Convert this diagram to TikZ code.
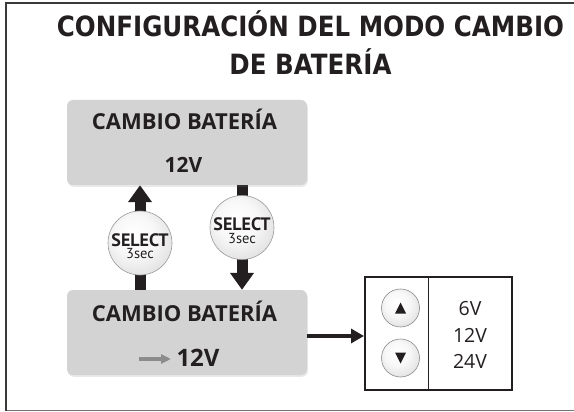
\documentclass[tikz,border=0pt]{standalone}
\usepackage{fontspec}
\setmainfont{Open Sans}
\newfontfamily\titlefont[FakeStretch=0.88]{DejaVu Sans}
\newfontfamily\selfont{PT Sans}
\usetikzlibrary{arrows.meta,shadows,backgrounds}
\definecolor{ink}{HTML}{231F20}
\definecolor{boxgray}{HTML}{D3D3D4}
\definecolor{framegray}{HTML}{3A3A3A}
\pgfdeclareradialshading{btnshade}{\pgfpoint{-6bp}{8bp}}{color(0bp)=(white); color(16bp)=(white!97!black); color(50bp)=(black!24)}
\newcommand{\seltext}{{\fontsize{18}{12.5}\selectfont\bfseries SELECT}\\{\fontsize{14.5}{12.5}\selectfont 3sec}}
\tikzset{
  panel/.style={fill=boxgray, rounded corners=6pt, minimum width=240pt, minimum height=85pt, inner sep=0pt,
    drop shadow={opacity=0.18, shadow xshift=0.8pt, shadow yshift=-1.8pt}},
  selbtn/.style={circle, draw=black!40, line width=0.6pt, shading=btnshade, minimum size=64pt, inner sep=0pt},
  keybtn/.style={circle, draw=black!45, line width=0.6pt, shading=btnshade, minimum size=38pt, inner sep=0pt},
  txt/.style={inner sep=0pt, anchor=base, text=ink},
  paneltxt/.style={txt, font=\fontsize{22}{24}\selectfont\bfseries},
  seltxt/.style={txt, align=center, font=\selfont\fontsize{18}{12.5}\selectfont},
  valtxt/.style={txt, font=\fontsize{19.5}{21}\selectfont},
  bigarr/.style={draw=ink, line width=11pt, -{Triangle[width=23pt,length=17pt]}},
  midarr/.style={draw=ink, line width=4pt, -{Triangle[width=14pt,length=13pt]}},
  grayarr/.style={draw=black!45, line width=3.5pt, -{Triangle[width=9pt,length=10pt]}},
  tri/.style={fill=ink}
}
\begin{document}
\begin{tikzpicture}[x=1pt,y=-1pt]
\useasboundingbox (0,0) rectangle (574,412);
% frame
\coordinate (fTL) at (6,3);
\coordinate (fTR) at (575,3);
\coordinate (fBL) at (6,410.5);
\coordinate (fBR) at (575,410.5);
\draw[framegray, line width=2pt] (fTL) -- (fTR);
\draw[black!55, line width=1.5pt] (fBL) -- (fBR);
\draw[framegray, line width=2.6pt] ([yshift=1pt]fTL) -- (fBL);
% title
\node[txt, font=\titlefont\fontsize{27.9}{30}\selectfont\bfseries] (title1) at (310.5,37) {CONFIGURACIÓN DEL MODO CAMBIO};
\node[txt, font=\titlefont\fontsize{27.9}{30}\selectfont\bfseries] (title2) at (310.5,75) {DE BATERÍA};
% panels
\node[panel] (top) at (187,142.5) {};
\node[panel] (bot) at (187,332.5) {};
\node[paneltxt] (t1) at (184.5,130) {CAMBIO BATERÍA};
\node[txt, font=\fontsize{21}{23}\selectfont\bfseries] (t2) at (183.5,173) {12V};
\node[paneltxt] (b1) at (184.5,321) {CAMBIO BATERÍA};
\node[txt, font=\fontsize{24}{26}\selectfont\bfseries] (b2) at (198,366) {12V};
\coordinate (ga1) at (139,359);
\coordinate (ga2) at (171,359);
\draw[grayarr] (ga1) -- (ga2);
% select buttons
\node[selbtn] (sel1) at (140,243) {};
\node[selbtn] (sel2) at (242,227.5) {};
\node[seltxt, anchor=center] (s1) at (140,246) {\seltext};
\node[seltxt, anchor=center] (s2) at (242,230.5) {\seltext};
\begin{scope}[on background layer]
\fill[white] (0,0) rectangle (574,412);
\draw[bigarr] (sel1 |- bot.north) -- (sel1 |- top.south);
\draw[bigarr] (sel2 |- top.south) -- (sel2 |- bot.north);
\end{scope}
% right box
\node[draw=ink, line width=2pt, minimum width=147pt, minimum height=113pt, inner sep=0pt] (rbox) at (438.5,333.5) {};
\coordinate (divN) at (428,277);
\coordinate (divS) at (428,390);
\draw[ink, line width=1pt] (divN) -- (divS);
\draw[midarr] ([yshift=-3.5pt]bot.east) -- ([yshift=-3.5pt]bot.east -| rbox.west);
\node[keybtn] (up) at (400.5,308) {};
\node[keybtn] (down) at (400.5,358) {};
\fill[tri] ([yshift=5.5pt]up.center) -- ([xshift=-5.5pt,yshift=-5.5pt]up.center) -- ([xshift=5.5pt,yshift=-5.5pt]up.center) -- cycle;
\fill[tri] ([yshift=-5.5pt]down.center) -- ([xshift=-5.5pt,yshift=5.5pt]down.center) -- ([xshift=5.5pt,yshift=5.5pt]down.center) -- cycle;
\node[valtxt] (v6) at (470,315) {6V};
\node[valtxt] (v12) at (470,342) {12V};
\node[valtxt] (v24) at (470,368.5) {24V};
\end{tikzpicture}
\end{document}
